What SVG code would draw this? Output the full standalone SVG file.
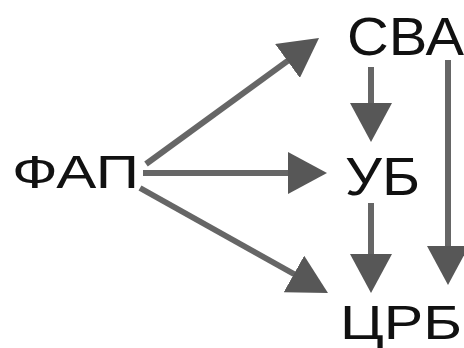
<svg xmlns="http://www.w3.org/2000/svg" width="464" height="348" viewBox="0 0 464 348">
<style>
text{font-family:"Liberation Sans",Arial,sans-serif;fill:#111;}
.c{stroke:#666;stroke-width:6;fill:none;marker-end:url(#ah);}
</style>
<defs>
<marker id="ah" markerUnits="userSpaceOnUse" viewBox="0 0 39 42" refX="1" refY="21" markerWidth="39" markerHeight="42" orient="auto">
<path d="M0,0 L39,21 L0,42 Z" fill="#575757"/>
</marker>
</defs>
<rect width="464" height="348" fill="#fff"/>
<g id="connectors">
<path class="c" d="M146,164 L288.3,60.4"/>
<path class="c" d="M143,173 L289,173"/>
<path class="c" d="M140,188 L294.8,274.5"/>
<path class="c" d="M371,67 L371,104"/>
<path class="c" d="M371,203 L371,255"/>
<path class="c" d="M448,60 L448,247"/>
</g>
<g id="node-fap"><text x="12" y="188" font-size="46" textLength="127" lengthAdjust="spacingAndGlyphs">ФАП</text></g>
<g id="node-sva"><text x="347" y="55" font-size="53" textLength="117" lengthAdjust="spacingAndGlyphs">СВА</text></g>
<g id="node-ub"><text x="345" y="195" font-size="53" textLength="75" lengthAdjust="spacingAndGlyphs">УБ</text></g>
<g id="node-crb"><text x="340" y="339" font-size="49" textLength="122" lengthAdjust="spacingAndGlyphs">ЦРБ</text></g>
</svg>
